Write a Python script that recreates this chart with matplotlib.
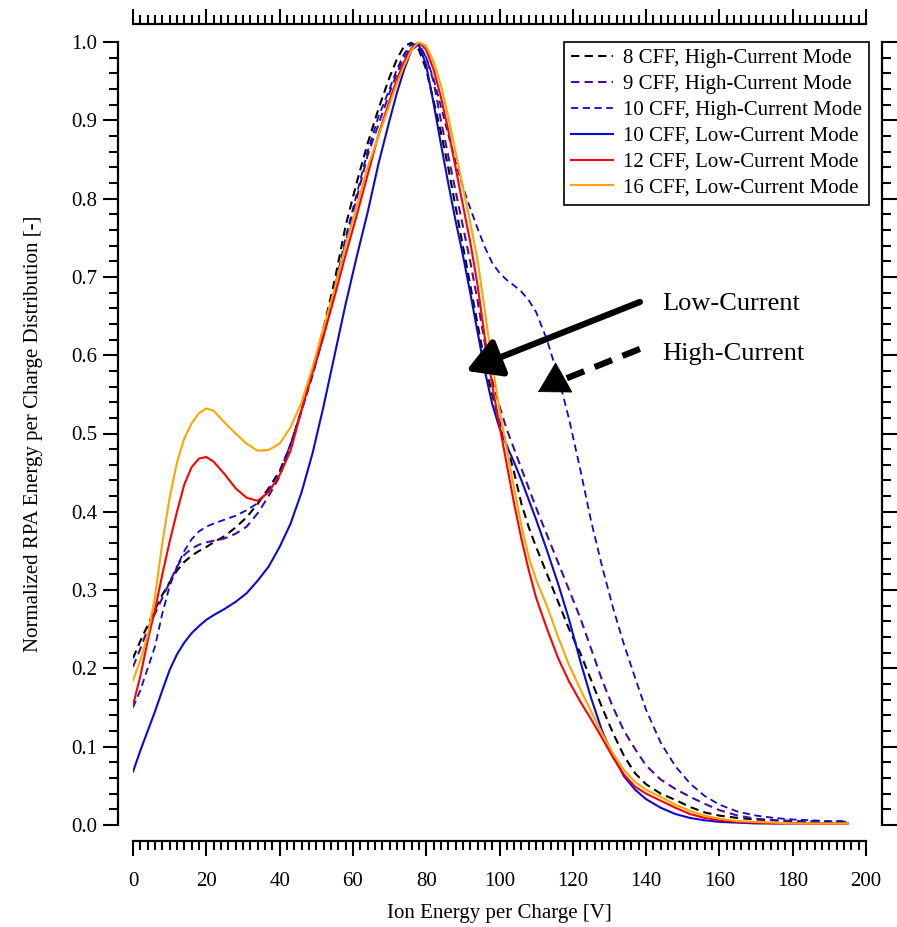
import matplotlib
matplotlib.use("Agg")
import matplotlib.pyplot as plt
import numpy as np

plt.rcParams['font.family'] = ['Liberation Serif', 'DejaVu Serif']

energy = [0, 2, 4, 6, 8, 10, 12, 14, 16, 18, 20, 22, 25, 28, 31, 34, 37, 40, 43, 46,
          49, 52, 55, 58, 61, 64, 67, 70, 72, 74, 76, 78, 80, 82, 84, 86, 88, 90, 92,
          94, 96, 98, 100, 102, 104, 106, 108, 110, 113, 116, 119, 122, 125, 128, 131,
          134, 137, 140, 144, 148, 152, 156, 160, 165, 170, 175, 180, 185, 190, 195]

cff8_high = [0.213, 0.235, 0.255, 0.275, 0.294, 0.310, 0.325, 0.336, 0.344, 0.350, 0.355,
             0.361, 0.369, 0.380, 0.393, 0.410, 0.430, 0.452, 0.485, 0.530, 0.580, 0.635,
             0.695, 0.765, 0.820, 0.870, 0.915, 0.955, 0.978, 0.995, 0.999, 0.990, 0.965,
             0.925, 0.885, 0.840, 0.790, 0.740, 0.690, 0.640, 0.590, 0.550, 0.515, 0.485,
             0.450, 0.410, 0.380, 0.355, 0.320, 0.285, 0.250, 0.220, 0.185, 0.150, 0.117,
             0.088, 0.066, 0.052, 0.040, 0.032, 0.023, 0.016, 0.012, 0.009, 0.007, 0.006,
             0.005, 0.004, 0.003, 0.003]

cff9_high = [0.202, 0.225, 0.250, 0.270, 0.290, 0.310, 0.330, 0.345, 0.353, 0.358, 0.361,
             0.363, 0.366, 0.372, 0.381, 0.398, 0.420, 0.445, 0.485, 0.530, 0.575, 0.625,
             0.680, 0.745, 0.800, 0.855, 0.895, 0.935, 0.960, 0.980, 0.995, 0.998, 0.980,
             0.950, 0.900, 0.855, 0.810, 0.765, 0.720, 0.670, 0.615, 0.568, 0.535, 0.505,
             0.480, 0.455, 0.430, 0.405, 0.370, 0.335, 0.300, 0.265, 0.225, 0.185, 0.150,
             0.120, 0.097, 0.076, 0.058, 0.046, 0.036, 0.027, 0.019, 0.012, 0.008, 0.006,
             0.005, 0.005, 0.004, 0.004]

cff10_high = [0.150, 0.172, 0.200, 0.228, 0.270, 0.305, 0.330, 0.350, 0.365, 0.375, 0.381,
              0.385, 0.390, 0.395, 0.402, 0.411, 0.428, 0.450, 0.487, 0.530, 0.575, 0.625,
              0.685, 0.750, 0.805, 0.860, 0.905, 0.940, 0.965, 0.985, 0.998, 0.995, 0.980,
              0.953, 0.918, 0.882, 0.847, 0.815, 0.788, 0.762, 0.738, 0.718, 0.705, 0.696,
              0.689, 0.681, 0.670, 0.655, 0.619, 0.573, 0.518, 0.455, 0.388, 0.330, 0.277,
              0.230, 0.188, 0.147, 0.105, 0.075, 0.053, 0.037, 0.026, 0.017, 0.012, 0.009,
              0.007, 0.006, 0.005, 0.005]

cff10_low = [0.068, 0.095, 0.120, 0.145, 0.172, 0.198, 0.218, 0.233, 0.245, 0.254, 0.262,
             0.268, 0.276, 0.285, 0.296, 0.312, 0.330, 0.355, 0.385, 0.425, 0.475, 0.535,
             0.600, 0.665, 0.725, 0.782, 0.845, 0.900, 0.935, 0.965, 0.990, 0.997, 0.970,
             0.922, 0.870, 0.820, 0.772, 0.728, 0.680, 0.630, 0.580, 0.538, 0.507, 0.484,
             0.463, 0.440, 0.415, 0.390, 0.350, 0.308, 0.262, 0.210, 0.162, 0.120, 0.088,
             0.062, 0.045, 0.033, 0.022, 0.014, 0.009, 0.006, 0.004, 0.003, 0.002, 0.002,
             0.002, 0.002, 0.002, 0.002]

cff12_low = [0.153, 0.190, 0.235, 0.275, 0.320, 0.362, 0.400, 0.435, 0.457, 0.468, 0.470,
             0.464, 0.448, 0.430, 0.418, 0.414, 0.425, 0.447, 0.478, 0.530, 0.578, 0.625,
             0.675, 0.728, 0.778, 0.830, 0.882, 0.925, 0.952, 0.975, 0.992, 1.000, 0.990,
             0.965, 0.930, 0.888, 0.840, 0.792, 0.745, 0.690, 0.622, 0.562, 0.510, 0.460,
             0.410, 0.365, 0.325, 0.290, 0.250, 0.213, 0.183, 0.158, 0.135, 0.111, 0.086,
             0.064, 0.049, 0.040, 0.031, 0.022, 0.014, 0.009, 0.006, 0.004, 0.003, 0.002,
             0.002, 0.002, 0.002, 0.002]

cff16_low = [0.185, 0.210, 0.242, 0.292, 0.360, 0.418, 0.463, 0.494, 0.513, 0.526, 0.532,
             0.529, 0.514, 0.500, 0.487, 0.478, 0.479, 0.487, 0.508, 0.540, 0.585, 0.635,
             0.685, 0.740, 0.790, 0.840, 0.880, 0.920, 0.947, 0.970, 0.990, 1.000, 0.995,
             0.975, 0.945, 0.905, 0.860, 0.815, 0.770, 0.722, 0.657, 0.590, 0.530, 0.480,
             0.430, 0.382, 0.342, 0.313, 0.279, 0.240, 0.204, 0.174, 0.145, 0.117, 0.091,
             0.070, 0.055, 0.045, 0.036, 0.026, 0.018, 0.012, 0.008, 0.005, 0.004, 0.003,
             0.002, 0.002, 0.002, 0.002]

series_labels = ["8 CFF, High-Current Mode", "9 CFF, High-Current Mode",
                 "10 CFF, High-Current Mode", "10 CFF, Low-Current Mode",
                 "12 CFF, Low-Current Mode", "16 CFF, Low-Current Mode"]

fig = plt.figure(figsize=(8.97, 9.27), dpi=100)
ax = fig.add_axes([133/897, 1 - 825/927, (866-133)/897, (825-42)/927])

dash = (0, (4, 2.5))
ax.plot(energy, cff8_high, color='black', lw=1.5, ls=dash, label=series_labels[0])
ax.plot(energy, cff9_high, color='#4B0C9E', lw=1.5, ls=dash, label=series_labels[1])
ax.plot(energy, cff10_high, color='#0A0AD8', lw=1.3, ls=dash, label=series_labels[2])
ax.plot(energy, cff10_low, color='#0A0AD8', lw=1.5, label=series_labels[3])
ax.plot(energy, cff12_low, color='#FF0000', lw=1.5, label=series_labels[4])
ax.plot(energy, cff16_low, color='#FFA500', lw=1.5, label=series_labels[5])

ax.set_xlim(0, 200)
ax.set_ylim(0, 1.0)
ax.set_xticks(np.arange(0, 201, 20))
ax.set_xticks(np.arange(0, 201, 2), minor=True)
ax.set_yticks(np.arange(0, 1.01, 0.1))
ax.set_yticks(np.arange(0, 1.001, 0.02), minor=True)
ax.set_yticklabels([f"{v:.1f}" for v in np.arange(0, 1.01, 0.1)])

for side, off in [('left', 15), ('bottom', 16), ('top', 18), ('right', 16)]:
    ax.spines[side].set_position(('outward', off * 0.72))
    ax.spines[side].set_linewidth(1.6)
ax.spines['left'].set_bounds(0, 1)
ax.spines['right'].set_bounds(0, 1)
ax.spines['bottom'].set_bounds(0, 200)
ax.spines['top'].set_bounds(0, 200)

ax.tick_params(axis='both', which='both', direction='out', width=1.5, labelsize=15,
               top=True, right=True, labeltop=False, labelright=False)
ax.tick_params(which='major', length=11)
ax.tick_params(which='minor', length=6.5)
ax.tick_params(axis='x', which='major', pad=11)
ax.tick_params(axis='y', which='major', pad=4)

ax.set_xlabel("Ion Energy per Charge [V]", fontsize=15, labelpad=10)
ax.set_ylabel("Normalized RPA Energy per Charge Distribution [-]", fontsize=15, labelpad=20)

leg = ax.legend(loc='upper right', bbox_to_anchor=(1.004, 1.0), fontsize=15, frameon=True,
                fancybox=False, framealpha=1, edgecolor='black', handlelength=2.0,
                handletextpad=0.5, labelspacing=0.3, borderpad=0.33, borderaxespad=0.0)
leg.get_frame().set_linewidth(1.2)

# annotation arrows
ax.annotate('', xy=(90.9, 0.580), xytext=(138.3, 0.668),
            arrowprops=dict(arrowstyle='-|>,head_length=1.3,head_width=0.75', lw=4.5,
                            color='black', shrinkA=0, shrinkB=0, mutation_scale=16))
ax.plot([138.3, 113.5], [0.608, 0.5615], color='black', lw=4.5, ls=(0, (3, 1.8)),
        solid_capstyle='butt', dash_capstyle='butt')
ax.annotate('', xy=(110.5, 0.553), xytext=(114.5, 0.5635),
            arrowprops=dict(arrowstyle='-|>,head_length=1.3,head_width=0.75', lw=0.5,
                            color='black', shrinkA=0, shrinkB=0, mutation_scale=16))
ax.text(144.5, 0.665, "Low-Current", fontsize=19, va='center', ha='left')
ax.text(144.5, 0.602, "High-Current", fontsize=19, va='center', ha='left')

fig.savefig("out.png", dpi=100)
